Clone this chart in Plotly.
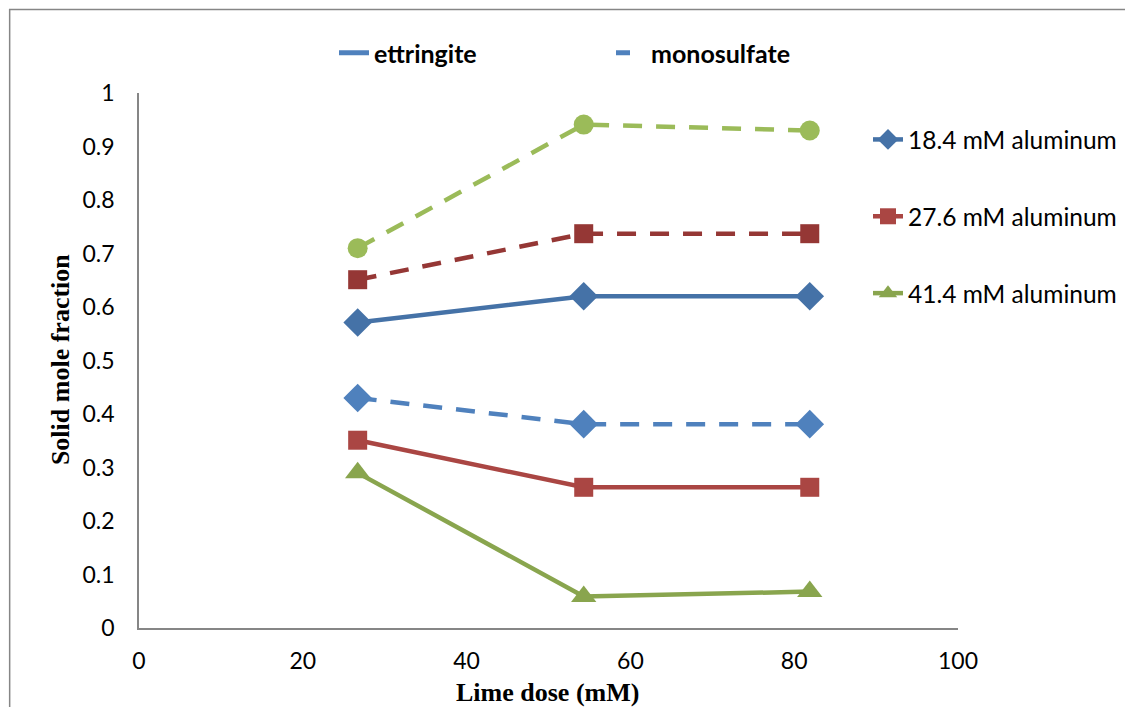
import plotly.graph_objects as go

# lime dose (mM) and solid mole fractions
lime_dose = [26.7, 54.3, 81.9]

ettringite_184 = [0.571, 0.620, 0.620]
ettringite_276 = [0.351, 0.263, 0.263]
ettringite_414 = [0.290, 0.059, 0.068]

monosulfate_184 = [0.430, 0.381, 0.381]
monosulfate_276 = [0.651, 0.737, 0.737]
monosulfate_414 = [0.710, 0.941, 0.930]

x_ticks = [0, 20, 40, 60, 80, 100]

# the page puts the figure 8px in from the top-left corner
OFF = 8
W, H = 1133 - OFF, 707 - OFF
# plot area in screen pixels
L, R, T, B = 139, 959, 93, 628
PW, PH = R - L, B - T


def px(x):
    return (x - L) / PW


def py(y):
    return (B - y) / PH


DASH = "19px,14px"
FONT = "Lato"

fig = go.Figure()

# ettringite: solid lines, shown in the right-hand legend
solid = [
    ("18.4 mM aluminum", ettringite_184, "#4572A7", "diamond", 22),
    ("27.6 mM aluminum", ettringite_276, "#AA4643", "square", 19),
    ("41.4 mM aluminum", ettringite_414, "#89A54E", "triangle-up", 22),
]
for i, (name, vals, color, sym, size) in enumerate(solid):
    fig.add_trace(go.Scatter(
        x=lime_dose, y=vals, name=name, mode="lines+markers",
        line=dict(color=color, width=4.5),
        marker=dict(symbol=sym, size=size, color=color),
        legend="legend2", legendgroup=f"g{i}",
    ))

# monosulfate: dashed lines
dashed = [
    (monosulfate_184, "#4F81BD", "diamond", 22),
    (monosulfate_276, "#953735", "square", 19),
    (monosulfate_414, "#9BBB59", "circle", 20),
]
for vals, color, sym, size in dashed:
    fig.add_trace(go.Scatter(
        x=lime_dose, y=vals, mode="lines+markers", showlegend=False,
        line=dict(color=color, width=4.5, dash=DASH),
        marker=dict(symbol=sym, size=size, color=color),
    ))

# top legend: line style key
fig.add_trace(go.Scatter(
    x=[None], y=[None], name="ettringite", mode="lines",
    line=dict(color="#4F81BD", width=5), legend="legend",
))
fig.add_trace(go.Scatter(
    x=[None], y=[None], name="monosulfate", mode="lines",
    line=dict(color="#4F81BD", width=5, dash="14px,16px"), legend="legend",
))

axis_line = dict(showline=True, linecolor="#868686", linewidth=1.5,
                 showgrid=False, zeroline=False, ticks="",
                 tickfont=dict(family=FONT, size=23, color="#000000"))

fig.update_layout(
    width=W, height=H,
    margin=dict(l=L - OFF, r=W - (R - OFF), t=T - OFF, b=H - (B - OFF)),
    paper_bgcolor="white", plot_bgcolor="white",
    font=dict(family=FONT, color="#000000"),
    xaxis=dict(range=[0, 100], tickvals=x_ticks, ticklabelstandoff=12,
               **axis_line),
    yaxis=dict(range=[0, 1], dtick=0.1, ticklabelstandoff=18, **axis_line),
    legend=dict(
        orientation="h", x=px(334), y=py(30), xanchor="left", yanchor="top",
        font=dict(family=FONT, size=25, weight="bold"),
        entrywidth=232, entrywidthmode="pixels",
        bgcolor="rgba(0,0,0,0)",
    ),
    legend2=dict(
        x=px(868), y=py(117), xanchor="left", yanchor="top",
        font=dict(family=FONT, size=24.5),
        tracegroupgap=42, bgcolor="rgba(0,0,0,0)",
    ),
    annotations=[
        dict(text="<b>Lime dose (mM)</b>", x=px(548), y=py(692),
             xref="paper", yref="paper", showarrow=False,
             xanchor="center", yanchor="middle",
             font=dict(family="Liberation Serif", size=26)),
        dict(text="<b>Solid mole fraction</b>", x=px(60), y=py(360),
             xref="paper", yref="paper", showarrow=False, textangle=-90,
             xanchor="center", yanchor="middle",
             font=dict(family="Liberation Serif", size=26)),
    ],
    shapes=[
        dict(type="rect", xref="paper", yref="paper",
             x0=px(9.5), x1=px(1128), y0=py(712), y1=py(9.5),
             line=dict(color="#868686", width=1.5), layer="above"),
    ],
)

fig.write_html("out.html")
